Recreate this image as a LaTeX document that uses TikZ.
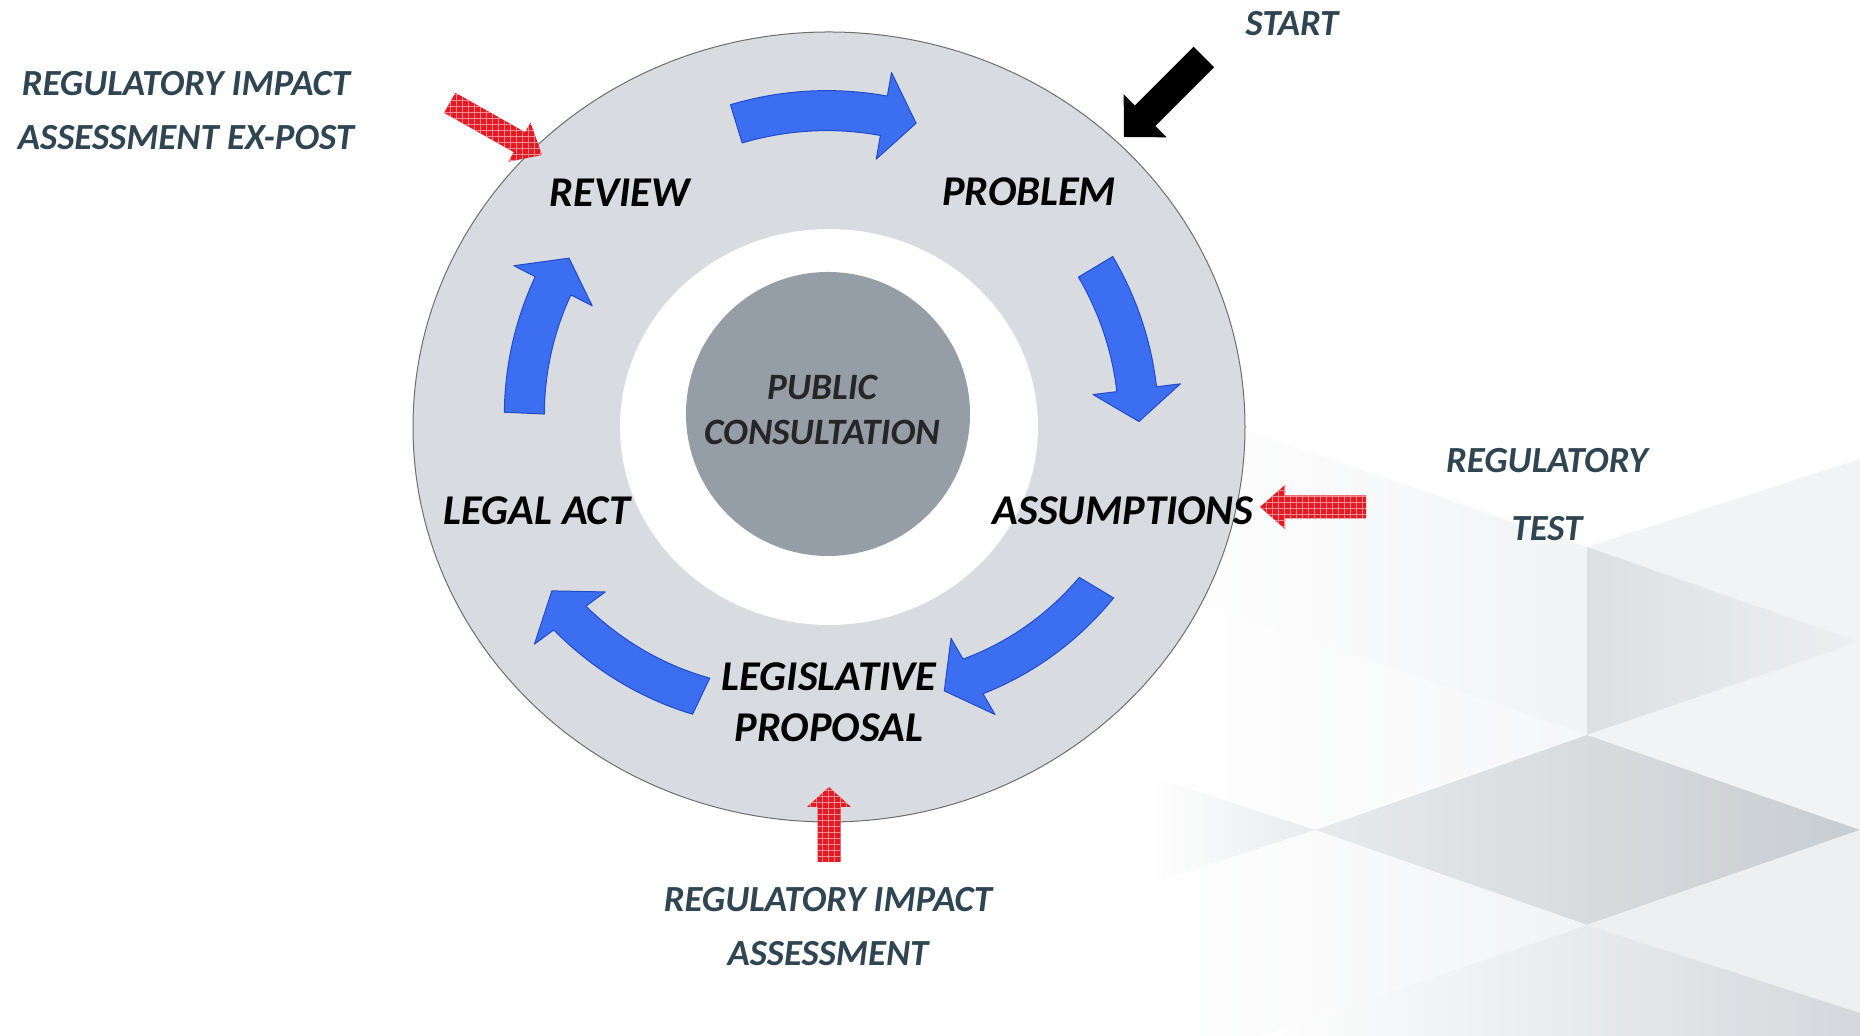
\documentclass[tikz,border=0pt]{standalone}
\usepackage{fontspec}
\setmainfont{Carlito}
\usetikzlibrary{patterns}
\definecolor{ringgrey}{RGB}{216,220,225}
\definecolor{ringedge}{RGB}{110,110,110}
\definecolor{coregrey}{RGB}{149,157,166}
\definecolor{slate}{RGB}{47,69,82}
\definecolor{arrowblue}{RGB}{59,110,240}
\definecolor{arrowedge}{RGB}{35,75,200}
\definecolor{redfill}{RGB}{228,25,35}
\definecolor{redlight}{RGB}{246,140,145}
\definecolor{bgA}{RGB}{242,243,245}
\definecolor{bgB}{RGB}{221,224,227}
\definecolor{bgC}{RGB}{237,239,241}
\definecolor{bgD}{RGB}{200,205,209}
\definecolor{bgE}{RGB}{232,234,236}
\definecolor{bgF}{RGB}{212,216,220}
\tikzset{
  lbl/.style={font=\fontsize{21.2}{25.5}\selectfont\bfseries\itshape, text=black, inner sep=0pt, align=center},
  glbl/.style={font=\fontsize{18.4}{27}\selectfont\bfseries\itshape, text=slate, inner sep=0pt, align=center},
  clbl/.style={font=\fontsize{18.6}{22.5}\selectfont\bfseries\itshape, text=black!85, inner sep=0pt, align=center},
  redarrow/.style={fill=redfill, postaction={pattern=grid, pattern color=redlight}},
  blackarrow/.style={fill=black},
  bluearrowstyle/.style={fill=arrowblue, draw=arrowedge, line width=0.5pt, line join=round},
}
% #1 tail angle, #2 head-base angle, #3 tip angle, #4 radius at tail, #5 radius at head
\newcommand\bluearrow[5]{%
  \path[bluearrowstyle]
    plot[domain=#1:#2, samples=30] ({(#4+((#5)-(#4))*(\x-(#1))/((#2)-(#1))+20)*cos(\x)}, {(#4+((#5)-(#4))*(\x-(#1))/((#2)-(#1))+20)*sin(\x)})
    -- ({#2}:{#5+44}) -- ({#3}:{#5}) -- ({#2}:{#5-44})
    -- plot[domain=#2:#1, samples=30] ({(#4+((#5)-(#4))*(\x-(#1))/((#2)-(#1))-20)*cos(\x)}, {(#4+((#5)-(#4))*(\x-(#1))/((#2)-(#1))-20)*sin(\x)})
    -- cycle;}
% #1 style, #2 tip x, #3 tip y, #4 direction, #5 length, #6 shaft half width, #7 head half width, #8 head length
\newcommand\blockarrow[8]{%
  \path[#1, shift={(#2,#3)}, rotate=#4] (0,0) -- (-#8,#7) -- (-#8,#6) -- (-#5,#6) -- (-#5,-#6) -- (-#8,-#6) -- (-#8,-#7) -- cycle;}
\begin{document}
\begin{tikzpicture}[x=0.5pt,y=0.5pt]
\useasboundingbox (0,0) rectangle (1860,1036);
\fill[white] (0,0) rectangle (1860,1036);
% background decoration
\shade[left color=white, right color=bgA] (1150,638) -- (1587,489) -- (1587,301) -- (1150,450) -- cycle;
\shade[left color=white, right color=bgA!70!white] (1150,450) -- (1587,301) -- (1150,152) -- cycle;
\fill[bgA] (1587,489) -- (1860,577) -- (1860,394) -- cycle;
\shade[left color=bgB, right color=bgC] (1587,489) -- (1860,394) -- (1587,301) -- cycle;
\fill[bgA] (1587,301) -- (1860,394) -- (1860,206) -- cycle;
\shade[left color=bgE, right color=bgD] (1587,301) -- (1860,206) -- (1587,111) -- (1315,206) -- cycle;
\shade[left color=white, right color=bgE] (1150,152) -- (1315,206) -- (1150,260) -- cycle;
\fill[bgC] (1587,111) -- (1860,206) -- (1860,23) -- cycle;
\shade[left color=white, right color=bgF] (1260,0) -- (1587,111) -- (1860,23) -- (1860,0) -- cycle;
\shade[left color=white, right color=bgA] (1150,0) -- (1150,152) -- (1315,206) -- (1587,111) -- (1260,0) -- cycle;
% ring
\fill[ringgrey, draw=ringedge, line width=0.5pt] (829,609) ellipse [x radius=416, y radius=395];
\fill[white] (829,609) ellipse [x radius=209, y radius=198];
\node (core) [circle, fill=coregrey, minimum size=142pt, inner sep=0pt] at (828,622) {};
\node (pc) [clbl] at (822,626) {PUBLIC\\CONSULTATION};
% blue cycle arrows
\begin{scope}[shift={(829,609)}]
  \bluearrow{107}{80}{74}{317}{316}
  \bluearrow{31}{7}{1}{311}{310}
  \bluearrow{-31}{-60}{-66.4}{312}{288}
  \bluearrow{-115.4}{-143.6}{-149.4}{298}{322}
  \bluearrow{177.4}{152.9}{147}{305}{310}
\end{scope}
% stage labels
\node (review) [lbl] at (620,843) {REVIEW};
\node (problem) [lbl] at (1029,844) {PROBLEM};
\node (assump) [lbl] at (1123,525) {ASSUMPTIONS};
\node (legal) [lbl] at (537,525) {LEGAL ACT};
\node (legis) [lbl] at (829,333.5) {LEGISLATIVE\\PROPOSAL};
% side labels
\node (riaexpost) [glbl] at (186,925) {REGULATORY IMPACT\\ASSESSMENT EX-POST};
\node (start) [glbl] at (1292,1012) {START};
\node (regtest) [font=\fontsize{18.4}{34}\selectfont\bfseries\itshape, text=slate, inner sep=0pt, align=center] at (1547,541) {REGULATORY\\TEST};
\node (ria) [glbl] at (828,109) {REGULATORY IMPACT\\ASSESSMENT};
% pointer arrows
\blockarrow{redarrow}{542}{881}{-29.5}{106}{11.5}{22.5}{26}
\blockarrow{redarrow}{1260}{529}{180}{106}{11.5}{22}{25}
\blockarrow{redarrow}{829}{249}{90}{75}{11.5}{22}{20}
\blockarrow{blackarrow}{1124}{899}{225}{113}{14.5}{30.5}{30}
\end{tikzpicture}
\end{document}
